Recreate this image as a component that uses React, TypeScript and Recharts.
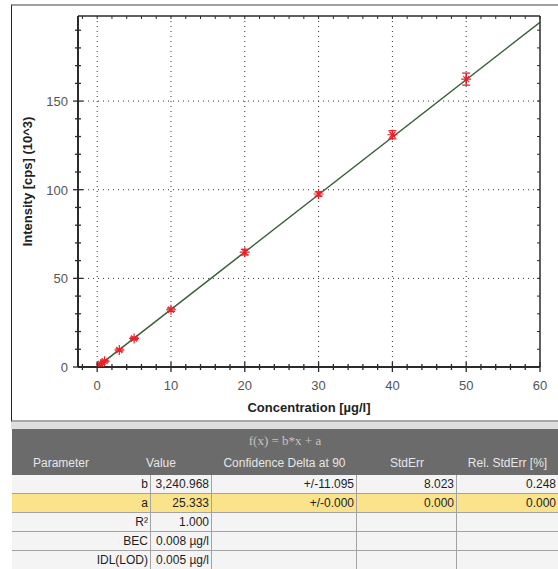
import { ComposedChart, Line, Scatter, ErrorBar, XAxis, YAxis, ReferenceLine } from 'recharts';

// calibration points (conc in µg/l, intensity in 10^3 cps)
const CONC = [0.5, 1, 3, 5, 10, 20, 30, 40, 50];
const INTENSITY = [1.7, 3.3, 9.6, 16.1, 32.3, 64.8, 97.6, 131.0, 162.4];
const ERR = [0.4, 0.5, 0.6, 0.7, 0.9, 1.6, 1.2, 2.3, 3.4];

// fitted line f(x) = b*x + a
const FIT_X = [0, 60];
const FIT_Y = [0.025, 194.48];

const X_TICKS = [-2, 0, 2, 4, 6, 8, 10, 12, 14, 16, 18, 20, 22, 24, 26, 28, 30, 32, 34, 36, 38, 40, 42, 44, 46, 48, 50, 52, 54, 56, 58, 60];
const X_MAJOR = [0, 10, 20, 30, 40, 50, 60];
const Y_TICKS = [0, 10, 20, 30, 40, 50, 60, 70, 80, 90, 100, 110, 120, 130, 140, 150, 160, 170, 180, 190];
const Y_MAJOR = [0, 50, 100, 150];
const GRID_X = [0, 10, 20, 30, 40, 50];
const GRID_Y = [50, 100, 150];

// table
const PARAMS = ['b', 'a', 'R²', 'BEC', 'IDL(LOD)'];
const VALUES = ['3,240.968', '25.333', '1.000', '0.008 µg/l', '0.005 µg/l'];
const CONF = ['+/-11.095', '+/-0.000', '', '', ''];
const STDERR = ['8.023', '0.000', '', '', ''];
const REL_STDERR = ['0.248', '0.000', '', '', ''];
const HEADERS = ['Parameter', 'Value', 'Confidence Delta at 90', 'StdErr', 'Rel. StdErr [%]'];

const points = CONC.map((x, i) => ({ x, y: INTENSITY[i], err: ERR[i] }));
const fit = FIT_X.map((x, i) => ({ x, y: FIT_Y[i] }));

const FONT = '"Liberation Sans", Arial, sans-serif';
const AXIS = '#2b2b2b';
const RED = '#e8222a';

const BottomTick = (props: any) => {
  const { x, y, payload } = props;
  const major = X_MAJOR.includes(payload.value);
  const h = major ? 5 : 3;
  return (
    <g>
      <line x1={x} x2={x} y1={y - h} y2={y + h} stroke={AXIS} strokeWidth={1.3} />
      {major && (
        <text x={x} y={y + 23} textAnchor="middle" fill="#555" fontSize={13} fontFamily={FONT}>
          {payload.value}
        </text>
      )}
    </g>
  );
};

const LeftTick = (props: any) => {
  const { x, y, payload } = props;
  const major = Y_MAJOR.includes(payload.value);
  const w = major ? 5 : 3;
  return (
    <g>
      <line x1={x - w} x2={x + w} y1={y} y2={y} stroke={AXIS} strokeWidth={1.3} />
      {major && (
        <text x={x - 10} y={y + 5} textAnchor="end" fill="#555" fontSize={13} fontFamily={FONT}>
          {payload.value}
        </text>
      )}
    </g>
  );
};

const TopTick = (props: any) => {
  const { x, y } = props;
  return <line x1={x} x2={x} y1={y} y2={y + 3} stroke={AXIS} strokeWidth={1} />;
};

const RightTick = (props: any) => {
  const { x, y } = props;
  return <line x1={x - 3} x2={x} y1={y} y2={y} stroke={AXIS} strokeWidth={1} />;
};

const PlusMark = (props: any) => {
  const { cx, cy } = props;
  return (
    <path
      d={`M${cx - 5},${cy}h10M${cx},${cy - 5}v10M${cx - 3},${cy - 3}l6,6M${cx - 3},${cy + 3}l6,-6`}
      stroke={RED}
      strokeWidth={1.2}
      fill="none"
    />
  );
};

const cell = (w: number, extra: any = {}) => ({
  width: w,
  boxSizing: 'border-box' as const,
  textAlign: 'right' as const,
  paddingRight: 2,
  borderRight: '1px solid #a3a3a3',
  whiteSpace: 'nowrap' as const,
  overflow: 'hidden',
  ...extra,
});

export default function App() {
  const headW = [98, 102, 145, 100, 101];
  const rowW = [139, 61, 145, 100, 101];
  const rows = PARAMS.map((p, i) => [p, VALUES[i], CONF[i], STDERR[i], REL_STDERR[i]]);

  return (
    <div style={{ position: 'absolute', left: 0, top: 0, width: 558, height: 569, background: '#fff', fontFamily: FONT, overflow: 'hidden' }}>
      <div
        style={{
          position: 'absolute',
          left: 11,
          top: 4,
          width: 547,
          height: 418,
          boxSizing: 'border-box',
          borderLeft: '1px solid #222',
          borderTop: '2px solid #a0a0a0',
          borderBottom: '2px solid #a8a8a8',
          background: '#fff',
        }}
      />
      <div style={{ position: 'absolute', left: 11, top: 422, width: 547, height: 7, background: '#dedede' }} />
      <div style={{ position: 'absolute', left: 0, top: 0 }}>
        <ComposedChart width={558} height={422} margin={{ top: 15, right: 17, bottom: 15, left: 18 }}>
          <XAxis
            xAxisId="b"
            dataKey="x"
            type="number"
            domain={[-2.6, 60]}
            allowDataOverflow
            ticks={X_TICKS}
            interval={0}
            tickSize={0}
            tickMargin={0}
            tickLine={false}
            tick={<BottomTick />}
            height={40}
            axisLine={{ stroke: AXIS, strokeWidth: 2 }}
            label={(p: any) => {
              const vb = p.viewBox;
              return (
                <text x={vb.x + vb.width / 2} y={vb.y + 45} textAnchor="middle" fill="#222" fontSize={13} fontWeight="bold" fontFamily={FONT}>
                  Concentration [µg/l]
                </text>
              );
            }}
          />
          <XAxis
            xAxisId="t"
            orientation="top"
            dataKey="x"
            type="number"
            domain={[-2.6, 60]}
            allowDataOverflow
            ticks={X_TICKS}
            interval={0}
            tickSize={0}
            tickMargin={0}
            tickLine={false}
            tick={<TopTick />}
            height={1}
            axisLine={{ stroke: AXIS, strokeWidth: 1.5 }}
          />
          <YAxis
            yAxisId="l"
            dataKey="y"
            type="number"
            domain={[0, 198]}
            allowDataOverflow
            ticks={Y_TICKS}
            interval={0}
            tickSize={0}
            tickMargin={0}
            tickLine={false}
            tick={<LeftTick />}
            width={60}
            axisLine={{ stroke: AXIS, strokeWidth: 2 }}
            label={(p: any) => {
              const vb = p.viewBox;
              const cx = vb.x + 14;
              const cy = vb.y + vb.height / 2 - 10;
              return (
                <text transform={`translate(${cx},${cy}) rotate(-90)`} textAnchor="middle" fill="#222" fontSize={13} fontWeight="bold" fontFamily={FONT}>
                  Intensity [cps] (10^3)
                </text>
              );
            }}
          />
          <YAxis
            yAxisId="r"
            orientation="right"
            dataKey="y"
            type="number"
            domain={[0, 198]}
            allowDataOverflow
            ticks={Y_TICKS}
            interval={0}
            tickSize={0}
            tickMargin={0}
            tickLine={false}
            tick={<RightTick />}
            width={1}
            axisLine={{ stroke: AXIS, strokeWidth: 1.5 }}
          />
          {GRID_X.map(v => (
            <ReferenceLine key={'gx' + v} xAxisId="b" yAxisId="l" x={v} stroke="#333" strokeDasharray="1 4" strokeWidth={1} />
          ))}
          {GRID_Y.map(v => (
            <ReferenceLine key={'gy' + v} xAxisId="b" yAxisId="l" y={v} stroke="#333" strokeDasharray="1 4" strokeWidth={1} />
          ))}
          <Line
            xAxisId="b"
            yAxisId="l"
            data={fit}
            dataKey="y"
            type="linear"
            stroke="#3c5f3c"
            strokeWidth={1.5}
            dot={false}
            isAnimationActive={false}
          />
          <Scatter xAxisId="b" yAxisId="l" data={points} dataKey="y" shape={<PlusMark />} isAnimationActive={false}>
            <ErrorBar dataKey="err" direction="y" width={4} stroke={RED} strokeWidth={1.3} />
          </Scatter>
        </ComposedChart>
      </div>

      <div style={{ position: 'absolute', left: 12, top: 429, width: 546, fontSize: 12, color: '#1e1e1e' }}>
        <div style={{ background: '#6b6b6b', height: 46 }}>
          <div style={{ height: 23, lineHeight: '24px', textAlign: 'center', color: '#c4c4c4', fontFamily: '"Liberation Serif", serif', fontSize: 13 }}>
            f(x) = b*x + a
          </div>
          <div style={{ display: 'flex', height: 23, lineHeight: '22px', color: '#e6e6e6' }}>
            {HEADERS.map((h, i) => (
              <div key={h} style={{ width: headW[i], textAlign: 'center', whiteSpace: 'nowrap' }}>
                {h}
              </div>
            ))}
          </div>
        </div>
        {rows.map((r, ri) => (
          <div
            key={ri}
            style={{
              display: 'flex',
              height: 19,
              lineHeight: '19px',
              boxSizing: 'border-box',
              borderBottom: '1px solid #a3a3a3',
              background: ri === 1 ? '#fbe38c' : '#f4f4f4',
            }}
          >
            {r.map((c, ci) => (
              <div key={ci} style={cell(rowW[ci], ci === 4 ? { borderRight: 'none' } : {})}>
                {c}
              </div>
            ))}
          </div>
        ))}
      </div>
    </div>
  );
}
